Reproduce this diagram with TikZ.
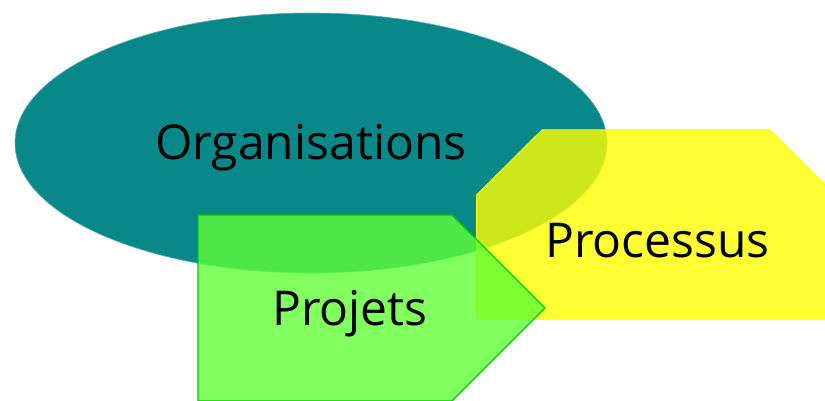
\documentclass[tikz,border=0pt]{standalone}
\usepackage{fontspec}
\setmainfont{Open Sans}
\usetikzlibrary{shapes.geometric}
\definecolor{tealc}{RGB}{8,136,136}
\definecolor{tealedge}{RGB}{90,170,190}
\definecolor{yelc}{RGB}{255,255,0}
\definecolor{grnc}{RGB}{97,255,55}
\definecolor{grnedge}{RGB}{0,200,0}
\tikzset{
  lbl/.style={text=black, inner sep=0pt, font=\fontsize{48}{54}\selectfont},
}
\begin{document}
\begin{tikzpicture}[x=1pt,y=-1pt]
\useasboundingbox (0,0) rectangle (825,401);
% ellipse
\node[ellipse, fill=tealc, draw=tealedge, line width=0.6pt, minimum width=592pt, minimum height=260pt, inner sep=0pt] (org) at (311,143) {};
% yellow shape
\filldraw[fill=yelc, fill opacity=0.8, draw=yelc, line width=1pt]
  (476.5,195) -- (542,130) -- (770,130) -- (830,190) -- (830,319) -- (476.5,319) -- cycle;
% green shape
\filldraw[fill=grnc, fill opacity=0.8, draw=grnedge, line width=1.2pt]
  (198,215) -- (452,215) -- (545,308) -- (452,401) -- (198,401) -- cycle;
\node[lbl, anchor=base] (orgt) at (311,160) {Organisations};
\node[lbl, anchor=base] (proct) at (657.5,257) {Processus};
\node[lbl, anchor=base] (projt) at (350,325) {Projets};
\end{tikzpicture}
\end{document}
